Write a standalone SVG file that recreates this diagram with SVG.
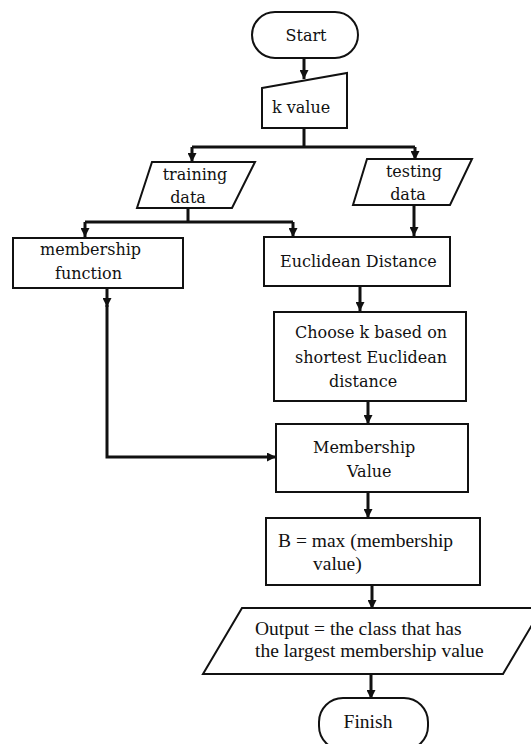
<svg xmlns="http://www.w3.org/2000/svg" width="531" height="744" viewBox="0 0 531 744">
<style>
.shape{fill:#fff;stroke:#111;stroke-width:2}
.conn{fill:none;stroke:#111;stroke-width:3}
.t1{font-family:"DejaVu Serif","Liberation Serif",serif;font-size:16px;fill:#111}
.t2{font-family:"Liberation Serif","Times New Roman",serif;font-size:19.5px;fill:#111}
</style>
<defs>
<marker id="ah" markerUnits="userSpaceOnUse" markerWidth="9" markerHeight="9" refX="9" refY="4.5" orient="auto">
<path d="M0,0 L9,4.5 L0,9 z" fill="#111"/>
</marker>
</defs>
<rect width="531" height="744" fill="#fff"/>
<g id="connectors">
<path class="conn" d="M304,58 V79" marker-end="url(#ah)"/>
<path class="conn" d="M304,128 V147 M192,147 H415"/>
<path class="conn" d="M192,147 V162" marker-end="url(#ah)"/>
<path class="conn" d="M415,147 V160" marker-end="url(#ah)"/>
<path class="conn" d="M188,208 V222 M85,222 H293"/>
<path class="conn" d="M85,222 V237" marker-end="url(#ah)"/>
<path class="conn" d="M293,222 V237" marker-end="url(#ah)"/>
<path class="conn" d="M414,205 V236" marker-end="url(#ah)"/>
<path class="conn" d="M360,286 V311" marker-end="url(#ah)"/>
<path class="conn" d="M107,288 V307" marker-end="url(#ah)"/>
<path class="conn" d="M107,305 V457 H276" marker-end="url(#ah)"/>
<path class="conn" d="M368,401 V424" marker-end="url(#ah)"/>
<path class="conn" d="M368,492 V518" marker-end="url(#ah)"/>
<path class="conn" d="M372,585 V609" marker-end="url(#ah)"/>
<path class="conn" d="M371,674 V699" marker-end="url(#ah)"/>
</g>
<g id="start">
<rect class="shape" x="252" y="12" width="106" height="46" rx="23"/>
<text class="t1" x="306" y="41" text-anchor="middle">Start</text>
</g>
<g id="kvalue">
<path class="shape" d="M262,88 L347,73 L347,128 L262,128 Z"/>
<text class="t1" x="272" y="113">k value</text>
</g>
<g id="training">
<path class="shape" d="M152,162 L255,162 L232,208 L137,208 Z"/>
<text class="t1" x="195" y="180" text-anchor="middle">training</text>
<text class="t1" x="188" y="203" text-anchor="middle">data</text>
</g>
<g id="testing">
<path class="shape" d="M367,159 L472,159 L450,205 L353,205 Z"/>
<text class="t1" x="414" y="177" text-anchor="middle">testing</text>
<text class="t1" x="408" y="200" text-anchor="middle">data</text>
</g>
<g id="membership-function">
<rect class="shape" x="13" y="238" width="170" height="50"/>
<text class="t1" x="40" y="255">membership</text>
<text class="t1" x="55" y="279">function</text>
</g>
<g id="euclidean">
<rect class="shape" x="264" y="237" width="186" height="49"/>
<text class="t1" x="280" y="267">Euclidean Distance</text>
</g>
<g id="choosek">
<rect class="shape" x="274" y="312" width="192" height="89"/>
<text class="t1" x="295" y="338">Choose k based on</text>
<text class="t1" x="295" y="363">shortest Euclidean</text>
<text class="t1" x="329" y="387">distance</text>
</g>
<g id="membership-value">
<rect class="shape" x="276" y="424" width="192" height="68"/>
<text class="t1" x="313" y="453">Membership</text>
<text class="t1" x="347" y="477">Value</text>
</g>
<g id="bmax">
<rect class="shape" x="266" y="518" width="214" height="67"/>
<text class="t2" x="278" y="547">B = max (membership</text>
<text class="t2" x="313" y="570">value)</text>
</g>
<g id="output">
<path class="shape" d="M242,608 L542,608 L503,674 L203,674 Z"/>
<text class="t2" x="255" y="635">Output = the class that has</text>
<text class="t2" x="255" y="657">the largest membership value</text>
</g>
<g id="finish">
<rect class="shape" x="319" y="698" width="109" height="52" rx="24"/>
<text class="t2" x="368" y="728" text-anchor="middle">Finish</text>
</g>
</svg>
